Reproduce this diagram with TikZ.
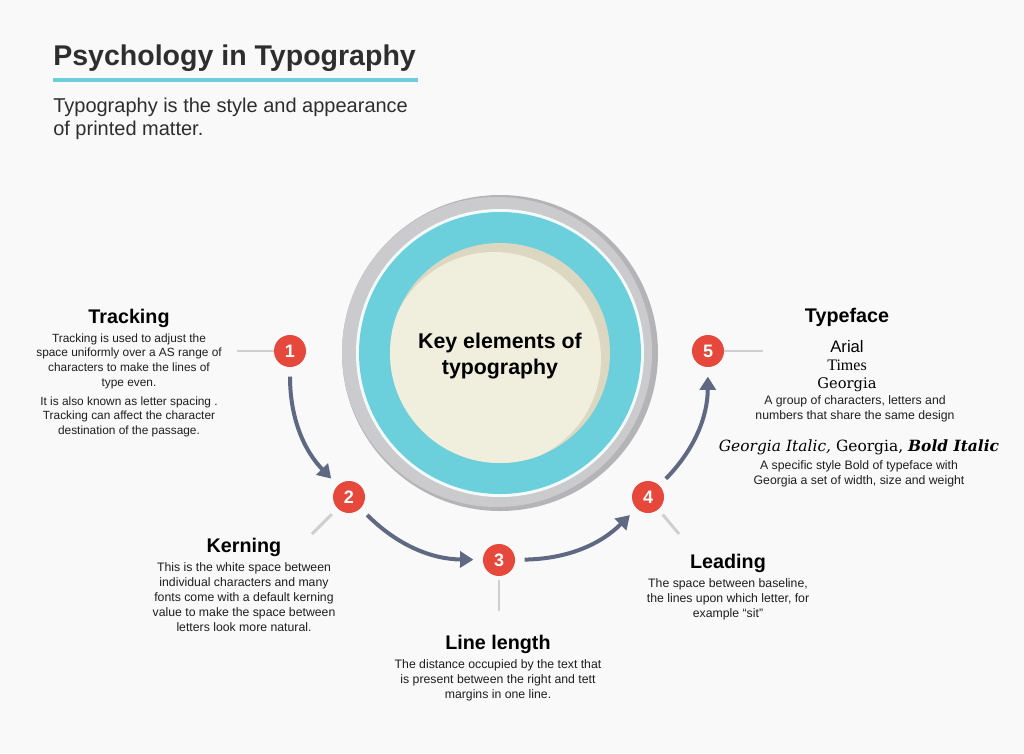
\documentclass[tikz,border=0pt]{standalone}
\usepackage{fontspec}
\setmainfont{Liberation Sans}
\newfontfamily\timesfont{Liberation Serif}
\newfontfamily\georgiafont{DejaVu Serif}
\usetikzlibrary{arrows.meta,positioning}
\definecolor{typobg}{HTML}{F9F9F9}
\definecolor{typodark}{HTML}{2E2E2E}
\definecolor{typotext}{HTML}{1E1E1E}
\definecolor{typocyan}{HTML}{6CCFDC}
\definecolor{typored}{HTML}{E6483B}
\definecolor{typoslate}{HTML}{5F6982}
\definecolor{typogray}{HTML}{CBCBCD}
\definecolor{typograydark}{HTML}{B4B4B7}
\definecolor{typotick}{HTML}{CFCFCF}
\definecolor{typocream}{HTML}{F0EEDD}
\definecolor{typocreamdark}{HTML}{DBD7C1}
\tikzset{
  heading/.style={
    inner sep=0pt,
    anchor=base,
    text=black,
    font=\fontsize{14.8}{17}\selectfont\bfseries
  },
  bodytext/.style={
    inner sep=0pt,
    align=center,
    text=typotext,
    font=\fontsize{9.2}{11.3}\selectfont
  },
  badge/.style={
    circle,
    fill=typored,
    minimum size=24pt,
    inner sep=0pt,
    text=white,
    font=\fontsize{13.5}{14}\selectfont\bfseries
  },
  flow/.style={-{Triangle[length=10pt,width=12pt]},line width=3pt,draw=typoslate,
    shorten <=7pt,shorten >=7pt},
  tick/.style={line width=2.2pt,draw=typotick}
}

\begin{document}
\begin{tikzpicture}[x=0.75pt,y=-0.75pt]
  \fill[typobg] (0,0) rectangle (1024,753);
  \useasboundingbox (0,0) rectangle (1024,753);

  % title
  \node[anchor=base west,inner sep=0pt,text=typodark,
    font=\fontsize{21.4}{24}\selectfont\bfseries] (title) at (53,65) {Psychology in Typography};
  \draw[typocyan,line width=2.3pt] (53,80) -- (418,80);
  \node[anchor=north west,inner sep=0pt,align=left,text=typodark,
    font=\fontsize{15}{17.3}\selectfont] (intro) at (53,98)
    {Typography is the style and appearance\\of printed matter.};

  % central disc
  \coordinate (hub) at (500,353);
  \fill[typograydark] (hub) circle[radius=158];
  \fill[typogray] (497,352) circle[radius=155];
  \fill[white!92!typocyan] (hub) circle[radius=144];
  \fill[typocyan] (hub) circle[radius=141];
  \fill[typocreamdark] (hub) circle[radius=110];
  \begin{scope}
    \clip (hub) circle[radius=110];
    \fill[typocream] (494,359) circle[radius=107];
  \end{scope}
  \node[align=center,inner sep=0pt,font=\fontsize{16}{19}\selectfont\bfseries] (core) at (500,356)
    {Key elements of\\typography};

  % numbered steps
  \node[badge] (n1) at (290,351) {1};
  \node[badge] (n2) at (349,497) {2};
  \node[badge] (n3) at (499,560) {3};
  \node[badge] (n4) at (648,497) {4};
  \node[badge] (n5) at (708,351) {5};

  \draw[flow] (n1) to[bend right=22] (n2);
  \draw[flow] (n2) to[bend right=22] (n3);
  \draw[flow] (n3) to[bend right=22] (n4);
  \draw[flow] (n4) to[bend right=22] (n5);

  % label ticks
  \coordinate (t1) at (237,351);
  \coordinate (t2) at (312,534);
  \coordinate (t3) at (499,611);
  \coordinate (t4) at (679,534);
  \coordinate (t5) at (763,351);
  \draw[tick] (t1) -- (n1);
  \draw[tick,shorten >=6pt] (t2) -- (n2);
  \draw[tick,shorten >=3pt] (t3) -- (n3);
  \draw[tick,shorten >=5pt] (t4) -- (n4);
  \draw[tick] (t5) -- (n5);

  % tracking
  \node[heading] (tracking) at (129,323) {Tracking};
  \node[bodytext,font=\fontsize{8.9}{11}\selectfont,below=4.5pt of tracking] (trackingtext)
    {Tracking is used to adjust the\\space uniformly over a AS range of\\characters to make the lines of\\type even.\\[3.2pt]
     It is also known as letter spacing .\\Tracking can affect the character\\destination of the passage.};

  % kerning
  \node[heading] (kerning) at (244,552) {Kerning};
  \node[bodytext,below=4.5pt of kerning] (kerningtext)
    {This is the white space between\\individual characters and many\\fonts come with a default kerning\\value to make the space between\\letters look more natural.};

  % line length
  \node[heading] (linelength) at (498,649) {Line length};
  \node[bodytext,below=4.5pt of linelength] (linelengthtext)
    {The distance occupied by the text that\\is present between the right and tett\\margins in one line.};

  % leading
  \node[heading] (leading) at (728,568) {Leading};
  \node[bodytext,below=4.5pt of leading] (leadingtext)
    {The space between baseline,\\the lines upon which letter, for\\example “sit”};

  % typeface
  \node[heading] (typeface) at (847,322) {Typeface};
  \node[inner sep=0pt,anchor=base,font=\fontsize{12.5}{14}\selectfont] (arial) at (847,352) {Arial};
  \node[inner sep=0pt,anchor=base,font=\fontsize{12}{14}\timesfont] (times) at (847,370) {Times};
  \node[inner sep=0pt,anchor=base,font=\fontsize{11}{14}\georgiafont] (georgia) at (847,388) {Georgia};
  \node[bodytext,anchor=north] (typefacetext) at (855,395)
    {A group of characters, letters and\\numbers that share the same design};
  \node[inner sep=0pt,anchor=base,font=\fontsize{11.6}{14}\georgiafont] (styles) at (859,451)
    {{\itshape Georgia Italic,} Georgia, {\bfseries\itshape Bold Italic}};
  \node[bodytext,anchor=north] (stylestext) at (859,460)
    {A specific style Bold of typeface with\\Georgia a set of width, size and weight};
\end{tikzpicture}
\end{document}
